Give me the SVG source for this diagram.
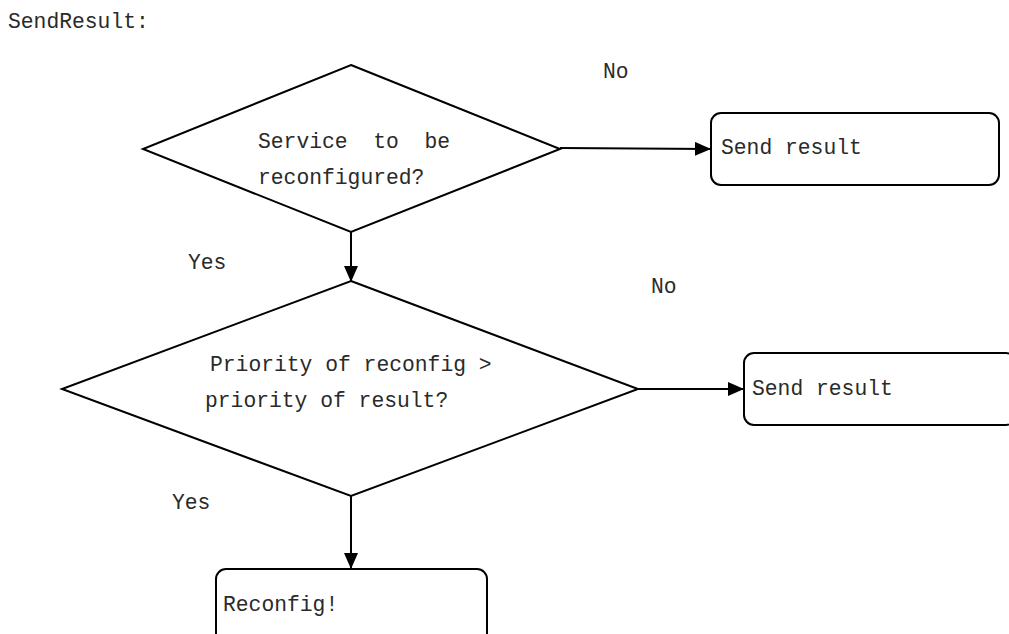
<svg xmlns="http://www.w3.org/2000/svg" width="1009" height="634" viewBox="0 0 1009 634">
  <style>
    .shape { fill: #ffffff; stroke: #000000; stroke-width: 2; }
    .edge { fill: none; stroke: #000000; stroke-width: 2; }
    .label { font-family: "Liberation Mono", "DejaVu Sans Mono", monospace; font-size: 21.33px; fill: #2a2a2a; }
  </style>
  <defs>
    <marker id="arrow" viewBox="0 0 10 10" refX="10" refY="5" markerWidth="8" markerHeight="8" markerUnits="userSpaceOnUse" orient="auto">
      <path d="M0,0 L10,5 L0,10 Z" fill="#000000"/>
    </marker>
    <marker id="head" viewBox="0 0 16 14" refX="16" refY="7" markerWidth="16" markerHeight="14" markerUnits="userSpaceOnUse" orient="auto">
      <path d="M0,0 L16,7 L0,14 Z" fill="#000000"/>
    </marker>
  </defs>

  <rect width="1009" height="634" fill="#ffffff"/>

  <text class="label" x="8" y="28">SendResult:</text>

  <!-- connectors -->
  <g id="connectors">
    <line class="edge" x1="560" y1="148" x2="711" y2="149" marker-end="url(#head)"/>
    <line class="edge" x1="351" y1="232" x2="351" y2="282" marker-end="url(#head)"/>
    <line class="edge" x1="638" y1="389" x2="744" y2="389" marker-end="url(#head)"/>
    <line class="edge" x1="351" y1="496" x2="351" y2="569" marker-end="url(#head)"/>
    <text class="label" x="603" y="78">No</text>
    <text class="label" x="188" y="269">Yes</text>
    <text class="label" x="651" y="293">No</text>
    <text class="label" x="172" y="509">Yes</text>
  </g>

  <!-- decision: service to be reconfigured -->
  <g id="decision-service">
    <polygon class="shape" points="351,65 560,149 351,232 143,149"/>
    <text class="label" x="258" y="148" xml:space="preserve">Service  to  be</text>
    <text class="label" x="258" y="184">reconfigured?</text>
  </g>

  <!-- first send result -->
  <g id="send-result-1">
    <rect class="shape" x="711" y="113" width="288" height="72" rx="10" ry="10"/>
    <text class="label" x="721" y="154">Send result</text>
  </g>

  <!-- decision: priority comparison -->
  <g id="decision-priority">
    <polygon class="shape" points="351,281 638,389 351,496 62,389"/>
    <text class="label" x="210" y="371">Priority of reconfig &gt;</text>
    <text class="label" x="205" y="407">priority of result?</text>
  </g>

  <!-- second send result -->
  <g id="send-result-2">
    <rect class="shape" x="744" y="353" width="272" height="72" rx="10" ry="10"/>
    <text class="label" x="752" y="395">Send result</text>
  </g>

  <!-- reconfigure -->
  <g id="reconfig">
    <rect class="shape" x="216" y="569" width="271" height="80" rx="10" ry="10"/>
    <text class="label" x="223" y="611">Reconfig!</text>
  </g>
</svg>
